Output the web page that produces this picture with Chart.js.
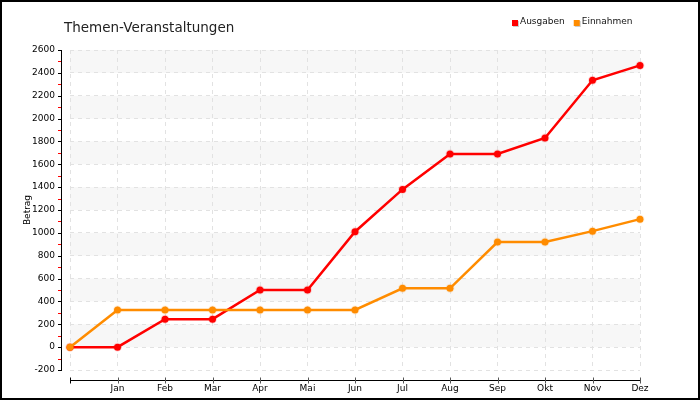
<!DOCTYPE html>
<html>
<head>
<meta charset="utf-8">
<script src="https://cdn.jsdelivr.net/npm/chart.js@4/dist/chart.umd.min.js"></script>
<style>
  html, body { margin: 0; padding: 0; background: #fff; }
  #wrap { width: 700px; height: 400px; position: relative; }
</style>
</head>
<body>
<div id="wrap"><canvas id="myChart" width="700" height="400"></canvas></div>
<script>
// Werte
var months = ['', 'Jan', 'Feb', 'Mar', 'Apr', 'Mai', 'Jun', 'Jul', 'Aug', 'Sep', 'Okt', 'Nov', 'Dez'];
var ausgaben = [0, 0, 245, 245, 500, 500, 1010, 1380, 1690, 1690, 1830, 2335, 2465];
var einnahmen = [0, 325, 325, 325, 325, 325, 325, 515, 515, 920, 920, 1015, 1120];
var seriesNames = ['Ausgaben', 'Einnahmen'];
var seriesColors = ['#ff0000', '#ff8c00'];
var titleText = 'Themen-Veranstaltungen';
var yTitle = 'Betrag';
var yMin = -200, yMax = 2600, yStep = 200;

var FONT = "'DejaVu Sans', Verdana, sans-serif";

// Hintergrund, Baender, Achsen, Titel, Legende
var decor = {
    id: 'decor',
    beforeDraw: function(chart) {
        var ctx = chart.ctx;
        var a = chart.chartArea;
        var y = chart.scales.y;
        ctx.save();
        ctx.fillStyle = '#fff';
        ctx.fillRect(0, 0, chart.width, chart.height);
        // graue Baender
        ctx.fillStyle = '#f7f7f7';
        for (var v = 0; v < yMax; v += 2 * yStep) {
            var t = y.getPixelForValue(v + yStep);
            var b = y.getPixelForValue(v);
            ctx.fillRect(a.left, t, a.right - a.left, b - t);
        }
        ctx.restore();
    },
    afterDraw: function(chart) {
        var ctx = chart.ctx;
        var a = chart.chartArea;
        var y = chart.scales.y;
        var x = chart.scales.x;
        ctx.save();
        // y-Achse
        var ax = a.left - 9;
        ctx.strokeStyle = '#000';
        ctx.lineWidth = 1;
        ctx.beginPath();
        ctx.moveTo(ax + 0.5, y.getPixelForValue(yMax));
        ctx.lineTo(ax + 0.5, y.getPixelForValue(yMin));
        ctx.stroke();
        for (var v = yMin; v <= yMax; v += yStep) {
            var py = Math.round(y.getPixelForValue(v)) + 0.5;
            ctx.strokeStyle = '#000';
            ctx.beginPath(); ctx.moveTo(ax - 3, py); ctx.lineTo(ax + 1, py); ctx.stroke();
            if (v < yMax) {
                var pm = Math.round(y.getPixelForValue(v + yStep / 2)) + 0.5;
                ctx.strokeStyle = '#ff0000';
                ctx.beginPath(); ctx.moveTo(ax - 3, pm); ctx.lineTo(ax, pm); ctx.stroke();
            }
        }
        // x-Achse
        var ay = a.bottom + 10.5;
        ctx.strokeStyle = '#000';
        ctx.beginPath();
        ctx.moveTo(x.getPixelForValue(0), ay);
        ctx.lineTo(x.getPixelForValue(months.length - 1), ay);
        ctx.stroke();
        for (var i = 0; i < months.length; i++) {
            var px = Math.round(x.getPixelForValue(i)) + 0.5;
            ctx.strokeStyle = i == 0 ? '#000' : '#555';
            ctx.beginPath(); ctx.moveTo(px, ay - 3); ctx.lineTo(px, ay + 3); ctx.stroke();
        }
        // Titel
        ctx.fillStyle = '#222';
        ctx.font = '13.5px ' + FONT;
        ctx.textBaseline = 'middle';
        ctx.textAlign = 'left';
        ctx.fillText(titleText, 64, 28);
        // Legende
        ctx.font = '9px ' + FONT;
        var lx = 512;
        for (var k = 0; k < seriesNames.length; k++) {
            ctx.fillStyle = '#ccc';
            ctx.fillRect(lx + 1, 21, 6, 6);
            ctx.fillStyle = seriesColors[k];
            ctx.fillRect(lx, 20, 6, 6);
            ctx.fillStyle = '#111';
            ctx.fillText(seriesNames[k], lx + 8, 22);
            lx += 8 + ctx.measureText(seriesNames[k]).width + 9;
        }
        // Rahmen
        ctx.strokeStyle = '#000';
        ctx.lineWidth = 2;
        ctx.strokeRect(1, 1, chart.width - 2, chart.height - 2);
        ctx.restore();
    }
};

function makeSet(i, values) {
    var c = seriesColors[i];
    return {
        label: seriesNames[i],
        data: values,
        borderColor: c,
        backgroundColor: c,
        borderWidth: 2.5,
        pointRadius: 3.5,
        pointBackgroundColor: c,
        pointBorderColor: i == 0 ? 'rgba(255,0,0,0.15)' : 'rgba(255,140,0,0.15)',
        pointBorderWidth: 2,
        tension: 0,
        fill: false
    };
}

var ctx = document.getElementById('myChart').getContext('2d');
var myChart = new Chart(ctx, {
    type: 'line',
    data: {
        labels: months,
        datasets: [makeSet(1, einnahmen), makeSet(0, ausgaben)]
    },
    options: {
        responsive: false,
        animation: false,
        devicePixelRatio: 1,
        layout: { padding: { left: 0, right: 60, top: 50, bottom: 0 } },
        plugins: {
            legend: { display: false },
            title: { display: false },
            tooltip: { enabled: false }
        },
        scales: {
            x: {
                offset: false,
                grid: { color: '#e2e2e2', drawTicks: false },
                border: { display: false, dash: [4, 4] },
                ticks: {
                    padding: 13,
                    color: '#000',
                    font: { family: FONT, size: 9 },
                    maxRotation: 0,
                    autoSkip: false
                },
                afterFit: function(s) { s.height = 30; }
            },
            y: {
                min: yMin,
                max: yMax,
                grid: { color: '#e2e2e2', drawTicks: false },
                border: { display: false, dash: [4, 4] },
                ticks: {
                    stepSize: yStep,
                    padding: 15,
                    color: '#000',
                    font: { family: FONT, size: 9 },
                    callback: function(v) { return String(v); }
                },
                title: {
                    display: true,
                    text: yTitle,
                    color: '#000',
                    font: { family: FONT, size: 9 },
                    padding: { top: 22, bottom: 0 }
                },
                afterFit: function(s) { s.width = 70; }
            }
        }
    },
    plugins: [decor]
});
</script>
</body>
</html>
